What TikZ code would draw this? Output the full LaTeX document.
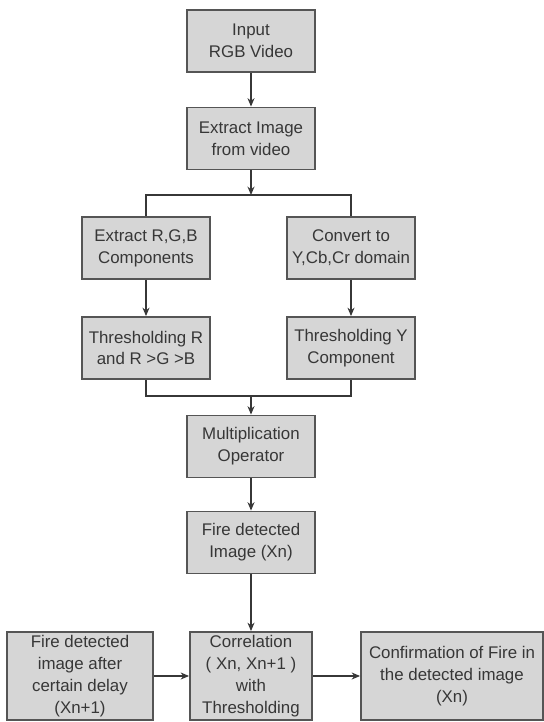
\documentclass[tikz,border=0pt]{standalone}
\usepackage{fontspec}
\setmainfont{Liberation Sans}
\usetikzlibrary{arrows.meta,positioning}
\definecolor{boxfill}{RGB}{214,214,214}
\definecolor{boxline}{RGB}{85,85,85}
\definecolor{ink}{RGB}{55,55,55}

\begin{document}
\begin{tikzpicture}[>={Stealth[length=6pt,width=5pt]},x=0.025cm,y=-0.025cm,
  blk/.style={draw=boxline,line width=1.3pt,fill=boxfill,text=ink,align=center,minimum width=3.2cm,minimum height=1.55cm,inner sep=1pt,font=\fontsize{12}{15.5}\selectfont},
  conn/.style={draw=ink,line width=0.9pt}]
\useasboundingbox (0,0) rectangle (544,722);
\node[blk] (input) at (251,41) {Input\\RGB Video};
\node[blk] (extract) at (251,138.5) {Extract Image\\from video};
\node[blk] (rgb) at (146,248) {Extract R,G,B\\Components};
\node[blk] (ycc) at (351,248) {Convert to\\Y,Cb,Cr domain};
\node[blk] (thr) at (146,348) {Thresholding R\\and R >G >B};
\node[blk] (thy) at (351,348) {Thresholding Y\\Component};
\node[blk] (mult) at (251,446.5) {Multiplication\\Operator};
\node[blk] (fire) at (251,542.5) {Fire detected\\Image (Xn)};
\node[blk,minimum width=3.05cm,minimum height=2.2cm] (corr) at (251,676) {Correlation\\( Xn, Xn+1 )\\with\\Thresholding};
\node[blk,minimum width=3.65cm,minimum height=2.2cm] (delay) at (80,676) {Fire detected\\image after\\certain delay\\(Xn+1)};
\node[blk,minimum width=4.55cm,minimum height=2.2cm] (confirm) at (452,676) {Confirmation of Fire in\\the detected image\\(Xn)};
\coordinate (split) at (251,195);
\coordinate (merge) at (251,396);
\draw[conn,->] (input) -- (extract);
\draw[conn,->] (extract) -- (split);
\draw[conn] (rgb.north) |- (split) -| (ycc.north);
\draw[conn,->] (rgb) -- (thr);
\draw[conn,->] (ycc) -- (thy);
\draw[conn] (thr.south) |- (merge) -| (thy.south);
\draw[conn,->] (merge) -- (mult);
\draw[conn,->] (mult) -- (fire);
\draw[conn,->] (fire) -- (corr);
\draw[conn,->] (delay) -- (corr);
\draw[conn,->] (corr) -- (confirm);
\end{tikzpicture}
\end{document}
